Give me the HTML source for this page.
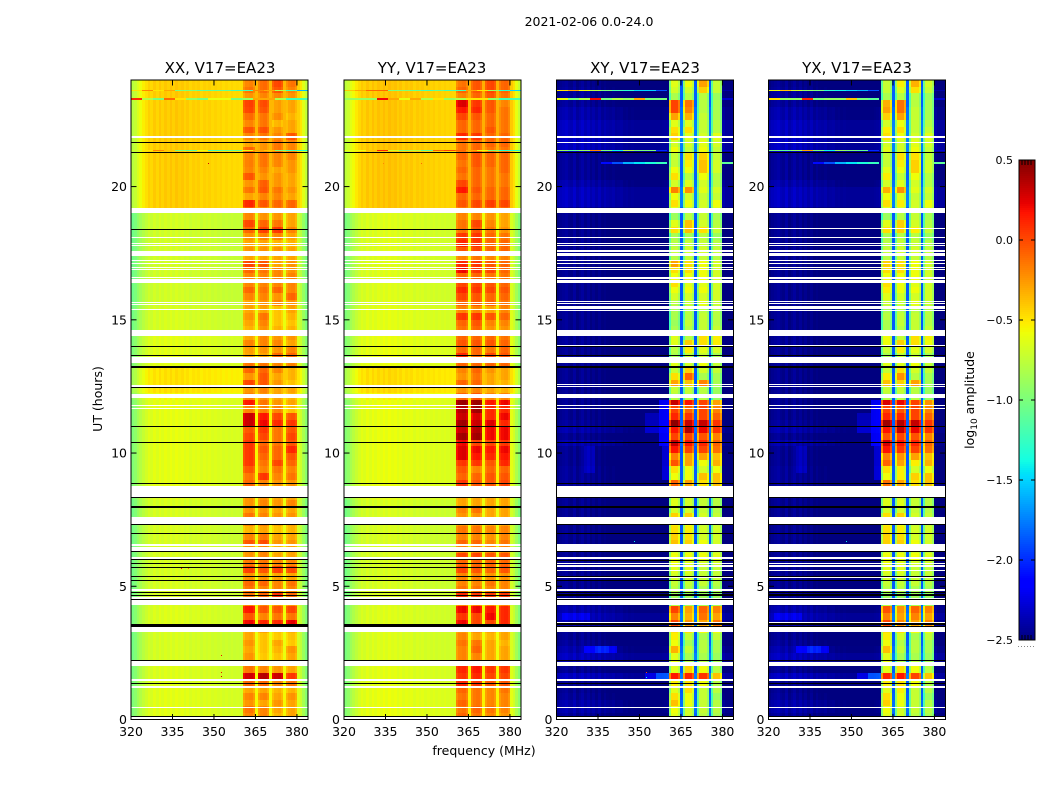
<!DOCTYPE html>
<html lang="en">
<head>
<meta charset="utf-8">
<title>2021-02-06 0.0-24.0 amplitude waterfall</title>
<style>
html,body{margin:0;padding:0;background:#fff;}
svg{display:block;font-family:"DejaVu Sans","Liberation Sans",sans-serif;fill:#000;}
.tick-label{font-size:12.5px;}
.title{font-size:15px;text-anchor:middle;}
</style>
</head>
<body>
<svg id="chart" width="1050" height="800" viewBox="0 0 1050 800" xmlns="http://www.w3.org/2000/svg">
  <rect x="0" y="0" width="1050" height="800" fill="#fff"/>
  <text x="589" y="26" font-size="12.5" text-anchor="middle">2021-02-06 0.0-24.0</text>
  <g id="panels"></g>
  <text class="title" x="220" y="73">XX, V17=EA23</text>
  <text class="title" x="432" y="73">YY, V17=EA23</text>
  <text class="title" x="645" y="73">XY, V17=EA23</text>
  <text class="title" x="857" y="73">YX, V17=EA23</text>
  <text font-size="12.5" text-anchor="middle" transform="translate(102 399) rotate(-90)">UT (hours)</text>
  <text x="484" y="755" font-size="12.5" text-anchor="middle">frequency (MHz)</text>
  <g id="colorbar"></g>
  <text font-size="12.5" text-anchor="middle" transform="translate(974 400) rotate(-90)">log<tspan font-size="9" dy="3">10</tspan><tspan dy="-3"> amplitude</tspan></text>
</svg>
<script>
// ---- axis tick data ----
const freqTicks = [320, 335, 350, 365, 380];
const hourTicks = [0, 5, 10, 15, 20];
const colorTicks = [-2.5, -2, -1.5, -1, -0.5, 0, 0.5];
const colorTickLabels = ["\u22122.5", "\u22122.0", "\u22121.5", "\u22121.0", "\u22120.5", "0.0", "0.5"];

// ---- channel layout (MHz) ----
const channelEdges = [320,321,322,323,324,325,326,327,328,329,330,331,332,333,334,335,336,337,338,339,340,341,342,343,344,345,346,347,348,349,350,351,352,353,354,355,356,357,358,359,360,360.6,361.4,362.7,364,364.8,365.9,366.6,367.9,369.1,369.8,370.9,371.6,373,374.3,375,375.9,376.6,377.9,379.2,379.9,381,382,383,384];
const bandStarts = [360.6, 365.9, 370.9, 375.9];
const bandEnds = [364.8, 369.8, 375, 379.9];

// ---- spectral shape per polarisation family (log10 offsets) ----
const parallelContinuumOffsets = [-.33,-.28,-.2,-.14,-.08,-.03,.02,-.01,.04,0,.05,.01,.05,.02,.06,.02,.06,.03,.05,.01,.04,0,.03,.01,.03,-.01,.02,0,.02,-.01,.01,-.01,.01,-.02,0,-.02,0,-.02,-.01,-.02,-.02];
const parallelBandShape = [-.07, 0, .02, -.05];
const parallelGapOffset = .1;
const parallelEdgeOffsets = [.02, -.05, -.18, -.3];
const crossContinuumOffsets = [-.08,-.04,-.02,0,-.04,-.06,0,-.08,-.04,0,-.06,-.02,-.08,-.04,-.09,-.04,-.1,-.06,-.09,-.1,-.08,-.12,-.11,-.1,-.13,-.12,-.14,-.13,-.14,-.14,-.14,-.14,-.14,-.14,-.14,-.14,-.14,-.14,-.13,-.12,-.1];
const crossBandShape = [-.25, .12, .12, -.05];
const crossGapOffset = .55;
const crossEdgeOffsets = [-.08, -.12, -.12, -.12];

// ---- time rows, top (24 h) to bottom (0 h): [continuum, band1, band2, band3, band4] ----
const rowHours = 0.25;
const xxRows = [
[-.45,-.2,-.12,0,-.15],[-.45,-.15,-.12,-.05,-.2],[-.45,-.25,-.2,-.2,-.25],[-.45,.02,-.02,-.28,-.3],[-.45,0,-.05,-.28,-.3],[-.45,-.12,-.15,-.22,-.35],
[-.45,-.2,-.15,-.35,-.3],[-.45,-.05,-.03,-.25,-.3],[-.45,-.2,-.15,-.2,-.05],[-.45,-.3,-.25,-.15,-.2],[-.45,-.1,-.25,-.15,-.2],[-.45,-.2,-.15,-.2,-.2],
[-.45,-.18,-.15,-.2,-.25],[-.45,-.2,-.2,-.3,-.25],[-.45,-.05,-.25,-.25,-.3],[-.45,-.25,-.08,-.25,-.3],[-.45,-.15,-.05,-.15,-.25],[-.45,-.3,-.2,-.2,-.3],
[-.45,.1,-.05,-.1,-.1],[-.45,-.05,-.2,-.15,-.1],[-.72,-.2,-.25,-.25,-.3],[-.72,0,-.1,-.15,-.3],[-.72,-.1,.02,.05,-.2],[-.72,-.25,-.2,-.2,-.3],
[-.72,-.3,-.3,-.35,-.35],[-.72,-.25,-.25,-.25,-.3],[-.72,-.3,-.3,-.3,-.3],[-.72,0,-.05,-.3,-.25],[-.72,-.1,-.15,-.2,-.25],[-.72,-.2,-.2,-.2,-.2],
[-.72,-.2,-.2,-.2,-.2],[-.72,-.1,-.15,-.1,-.2],[-.72,-.2,-.2,-.25,-.1],[-.72,-.3,-.25,-.2,-.25],[-.7,-.3,-.3,-.4,-.3],[-.7,-.25,-.15,-.4,-.35],
[-.7,-.3,-.2,-.4,-.4],[-.7,-.35,-.25,-.35,-.35],[-.66,-.3,-.2,-.25,-.25],[-.66,-.2,-.2,-.2,-.3],[-.66,-.28,-.25,-.25,-.2],[-.66,-.3,-.3,-.1,-.1],
[-.66,-.15,-.15,-.2,-.2],[-.52,-.1,-.1,-.2,-.35],[-.52,-.25,-.05,-.3,-.35],[-.52,0,-.05,-.25,-.4],[-.52,-.25,-.2,-.3,-.3],[-.6,-.2,-.25,-.3,-.35],
[-.65,.15,-.15,-.25,-.3],[-.65,-.2,-.2,-.2,-.4],[-.65,.3,.15,0,-.05],[-.65,.3,.2,.1,.05],[-.65,-.05,.05,-.15,-.05],[-.65,0,0,-.15,0],
[-.65,.05,-.1,-.15,-.05],[-.65,.05,-.05,-.1,.1],[-.65,.05,-.1,-.1,-.05],[-.65,.05,-.15,0,-.1],[-.65,-.05,-.2,-.15,-.2],[-.65,-.15,.05,-.2,-.15],
[-.65,-.1,-.2,-.25,-.25],[-.68,-.25,-.25,-.3,-.3],[-.68,-.25,-.25,-.3,-.3],[-.7,-.25,-.2,-.25,-.2],[-.7,-.25,-.25,-.3,-.3],[-.7,-.15,-.2,-.25,-.25],
[-.7,-.2,-.2,-.3,-.3],[-.7,-.35,-.3,-.4,-.35],[-.7,-.2,-.15,-.3,-.3],[-.7,-.05,-.02,-.25,-.25],[-.7,-.25,-.2,-.35,-.3],[-.7,-.25,-.2,-.3,-.3],
[-.7,-.15,-.15,-.2,-.2],[-.7,.02,-.05,.02,-.02],[-.7,-.25,-.25,-.3,-.3],[-.7,-.1,-.1,-.2,-.15],[-.7,-.15,-.2,-.2,-.2],[-.7,-.15,-.1,.08,-.1],
[-.7,-.2,-.2,-.25,-.25],[-.68,.15,-.05,-.05,0],[-.68,-.05,-.2,-.15,-.15],[-.68,.2,.1,.1,.22],[-.7,-.3,-.3,-.4,-.35],[-.7,-.3,-.4,-.42,-.4],
[-.7,-.25,-.4,-.3,-.42],[-.7,-.3,-.4,-.35,-.25],[-.7,-.25,-.42,-.4,-.3],[-.7,-.3,-.38,-.4,-.4],[-.68,-.15,-.2,-.25,-.3],[-.68,.28,.35,.3,.05],
[-.68,-.1,-.1,-.2,-.15],[-.66,-.3,-.3,-.35,-.35],[-.66,-.2,-.2,-.3,-.25],[-.66,-.25,-.3,-.25,-.3],[-.66,-.15,-.2,-.3,-.3],[-.66,-.2,-.2,-.35,-.3]
];
const yyRows = [
[-.43,-.15,-.05,0,-.1],[-.43,-.1,-.05,0,-.1],[-.43,-.2,-.1,-.05,-.15],[-.43,.25,.05,-.05,-.2],[-.43,.15,.1,-.05,-.15],[-.43,0,-.05,-.1,-.15],
[-.43,-.1,-.1,-.1,-.15],[-.43,-.1,-.1,-.05,-.15],[-.43,.1,.05,-.1,-.1],[-.43,-.15,-.1,-.1,-.1],[-.43,-.15,-.1,-.15,-.15],[-.43,-.1,-.05,-.1,-.1],
[-.43,-.15,-.05,-.1,-.1],[-.43,-.1,-.1,-.15,-.1],[-.43,-.15,-.1,-.15,-.15],[-.43,0,-.1,-.15,-.15],[-.43,.15,-.05,-.1,-.1],[-.43,-.1,-.1,-.1,-.1],
[-.43,-.05,0,.03,0],[-.43,-.15,-.05,-.05,-.1],[-.68,-.2,-.2,-.25,-.3],[-.68,-.15,0,-.2,-.3],[-.68,-.15,-.05,-.15,-.25],[-.68,.05,.05,-.1,-.15],
[-.68,.1,.05,-.1,-.1],[-.68,-.05,0,-.1,-.1],[-.68,-.2,-.15,-.2,-.2],[-.68,.1,.05,-.05,-.1],[-.68,.2,.05,0,-.1],[-.68,-.1,-.1,-.15,-.15],
[-.68,0,0,-.05,-.1],[-.68,.1,.05,0,-.05],[-.68,0,-.05,-.1,-.1],[-.68,-.1,-.05,-.1,-.15],[-.66,-.2,-.2,-.3,-.2],[-.66,.05,.05,-.05,-.1],
[-.66,-.1,-.05,-.2,-.2],[-.66,-.15,-.1,-.25,-.25],[-.64,-.1,-.1,-.1,-.15],[-.64,-.05,-.05,-.05,-.1],[-.64,-.1,-.1,-.15,-.1],[-.64,.1,-.1,0,-.05],
[-.64,-.1,-.1,-.1,-.1],[-.5,-.2,-.1,-.25,-.3],[-.5,-.25,-.15,-.3,-.3],[-.5,-.1,-.1,-.3,-.35],[-.5,-.25,-.2,-.3,-.35],[-.58,-.1,-.05,-.2,-.2],
[-.64,.42,.42,.15,.2],[-.64,.35,.4,.1,.1],[-.64,.3,.25,.1,.2],[-.64,.4,.3,.25,.1],[-.64,.3,.35,.2,.2],[-.64,.4,.4,.2,.2],
[-.64,.2,0,0,.05],[-.64,.25,.2,.15,.2],[-.64,.25,.15,.1,.15],[-.64,.05,.05,-.05,.1],[-.64,-.05,-.2,-.1,-.1],[-.64,-.1,-.1,-.05,-.05],
[-.64,.05,-.05,-.05,0],[-.66,-.3,-.3,-.3,-.3],[-.66,-.3,-.3,-.3,-.3],[-.7,-.3,-.3,-.3,-.3],[-.7,-.2,-.15,-.3,-.3],[-.7,-.25,-.25,-.3,-.3],
[-.7,-.25,-.25,-.3,-.3],[-.7,-.15,-.15,-.2,-.2],[-.7,-.2,-.2,-.25,-.2],[-.7,-.1,-.1,-.2,-.15],[-.7,-.2,-.2,-.2,-.2],[-.7,0,0,-.05,-.05],
[-.7,-.1,-.1,-.1,-.1],[-.7,0,-.05,-.1,-.05],[-.7,-.2,-.2,-.25,-.25],[-.7,-.2,-.2,-.15,-.2],[-.7,-.15,-.15,-.2,-.2],[-.7,.1,.05,.05,.05],
[-.7,-.2,-.2,-.2,-.2],[-.68,.2,.2,.15,.1],[-.68,.05,0,.2,.1],[-.68,.2,0,0,.1],[-.68,-.25,-.25,-.3,-.3],[-.68,-.2,-.3,-.35,-.3],
[-.68,-.15,-.15,-.3,-.35],[-.68,-.2,-.1,-.3,-.3],[-.68,-.2,-.2,-.3,-.3],[-.68,-.2,-.2,-.3,-.3],[-.66,.1,.15,.05,.05],[-.66,.05,.1,0,0],
[-.66,.1,.05,-.05,-.05],[-.64,-.1,-.15,-.2,-.15],[-.64,-.15,-.15,-.2,-.2],[-.64,-.1,-.15,-.2,-.2],[-.64,-.15,-.1,-.15,-.2],[-.64,-.1,-.15,-.2,-.25]
];
const xyRows = [
[-2.42,-.75,-.7,-.4,-.85],[-2.4,-.8,-.8,-.55,-.85],[-2.4,-.95,-.9,-.9,-1],[-2.4,-.1,-.25,-.9,-.95],[-2.35,-.1,-.3,-.9,-.95],[-2.35,-.4,-.45,-.85,-.95],
[-2.3,-.75,-.75,-.85,-.9],[-2.3,-.6,-.6,-.85,-.9],[-2.3,-.55,-.75,-.8,-.75],[-2.3,-.8,-.8,-.75,-.8],[-2.3,-.7,-.85,-.7,-.85],[-2.4,-.85,-.6,-.55,-.85],
[-2.4,-.85,-.65,-.5,-.8],[-2.4,-.7,-.7,-.5,-.8],[-2.4,-.6,-.9,-.7,-.9],[-2.35,-.8,-.75,-.8,-.9],[-2.3,-.3,-.35,-.75,-.8],[-2.3,-.7,-.8,-.85,-.85],
[-2.3,-.6,-.7,-.8,-.7],[-2.4,-.75,-.85,-.8,-.75],[-2.42,-1,-.9,-.85,-.95],[-2.42,-.75,-.5,-.8,-.9],[-2.42,-.6,-.5,-.6,-.85],[-2.42,-.95,-.95,-.9,-1],
[-2.42,-.9,-.85,-.85,-.9],[-2.42,-.85,-.8,-.8,-.85],[-2.42,-.9,-.85,-.85,-.9],[-2.42,-.4,-.6,-.7,-.8],[-2.42,-.6,-.6,-.7,-.8],[-2.42,-.7,-.7,-.7,-.8],
[-2.42,-.6,-.75,-.75,-.8],[-2.42,-.7,-.7,-.7,-.8],[-2.42,-.8,-.8,-.8,-.8],[-2.42,-.9,-.85,-.75,-.85],[-2.42,-.95,-.9,-.9,-.9],[-2.42,-.95,-.9,-.85,-.9],
[-2.42,-1,-.85,-.85,-.9],[-2.42,-.95,-.9,-.85,-.85],[-2.42,-.75,-.9,-.6,-.65],[-2.4,-.75,-.55,-.6,-.65],[-2.42,-.9,-.65,-.75,-.8],[-2.42,-.95,-.85,-.85,-.95],
[-2.42,-.75,-.8,-.7,-.85],[-2.42,-.85,-.55,-.8,-.85],[-2.42,-.6,-.2,-.95,-.95],[-2.42,-.4,-.5,-.3,-.95],[-2.42,-.85,-.85,-.9,-1],[-2.42,-.9,-.9,-.9,-1],
[-2.42,.2,.05,-.1,-.4],[-2.42,-.1,-.2,-.1,-.3],[-2.42,0,-.05,-.1,-.2],[-2.4,.35,.2,.2,-.05],[-2.35,.05,.25,.1,-.05],[-2.42,-.1,-.1,-.15,-.3],
[-2.35,.2,.05,0,-.2],[-2.42,.05,-.1,-.1,-.25],[-2.42,-.3,-.4,-.4,-.5],[-2.42,-.15,-.4,-.7,-.45],[-2.4,-.6,-.7,-.8,-.7],[-2.4,-.7,-.7,-.5,-.5],
[-2.4,-.2,-.4,-.6,-.5],[-2.42,-.8,-.8,-.85,-.9],[-2.42,-.8,-.8,-.85,-.9],[-2.42,-.75,-.8,-.85,-.9],[-2.42,-.8,-.8,-.85,-.9],[-2.42,-.55,-.55,-.8,-.85],
[-2.42,-.65,-.7,-.85,-.85],[-2.42,-.6,-.65,-.8,-.8],[-2.42,-.55,-.6,-.8,-.8],[-2.42,-.5,-.55,-.7,-.8],[-2.42,-.8,-.8,-.8,-.85],[-2.42,-.7,-.7,-.7,-.75],
[-2.42,-.7,-.75,-.8,-.8],[-2.42,-.75,-.75,-.85,-.85],[-2.42,-.8,-.8,-.85,-.85],[-2.42,-.85,-.85,-.85,-.9],[-2.42,-.9,-.9,-.95,-.95],[-2.42,-1,-1,-1,-1],
[-2.42,-.9,-.95,-.95,-.95],[-2.35,-.1,-.4,-.2,-.3],[-2.3,-.3,-.45,-.25,-.4],[-2.35,-.1,-.35,-.4,-.25],[-2.42,-.6,-.6,-.7,-.7],[-2.42,-.65,-.85,-.95,-.85],
[-2.4,-.7,-.95,-.9,-.95],[-2.35,-.45,-.85,-.9,-.95],[-2.3,-.75,-.95,-.95,-1],[-2.35,-.7,-.9,-.9,-.95],[-2.42,-.75,-.55,-.7,-.9],[-2.3,.05,0,-.05,-.5],
[-2.42,-.65,-.6,-.7,-.9],[-2.42,-.75,-.6,-.85,-.9],[-2.4,-.6,-.7,-.85,-1],[-2.35,-.5,-.7,-.85,-.9],[-2.35,-.7,-.8,-.85,-.9],[-2.4,-.75,-.8,-.9,-.95]
];
const yxRows = [
[-2.42,-.85,-.65,-.45,-.8],[-2.4,-.85,-.75,-.6,-.85],[-2.4,-.95,-.9,-.9,-1],[-2.4,-.45,-.25,-.9,-.95],[-2.35,-.4,-.25,-.85,-.95],[-2.35,-.55,-.4,-.85,-.95],
[-2.3,-.8,-.7,-.85,-.9],[-2.3,-.65,-.6,-.85,-.85],[-2.3,-.6,-.7,-.8,-.75],[-2.3,-.8,-.8,-.75,-.8],[-2.3,-.75,-.8,-.7,-.85],[-2.4,-.85,-.6,-.6,-.85],
[-2.4,-.85,-.65,-.55,-.8],[-2.4,-.75,-.7,-.55,-.8],[-2.4,-.65,-.85,-.7,-.9],[-2.35,-.8,-.75,-.8,-.9],[-2.3,-.45,-.35,-.75,-.8],[-2.3,-.7,-.75,-.85,-.85],
[-2.3,-.6,-.65,-.8,-.7],[-2.4,-.75,-.8,-.8,-.75],[-2.42,-1,-.9,-.85,-.95],[-2.42,-.75,-.55,-.8,-.9],[-2.42,-.6,-.55,-.65,-.85],[-2.42,-.95,-.9,-.9,-1],
[-2.42,-.9,-.85,-.85,-.9],[-2.42,-.85,-.8,-.8,-.85],[-2.42,-.9,-.85,-.85,-.9],[-2.42,-.55,-.6,-.7,-.8],[-2.42,-.6,-.6,-.7,-.8],[-2.42,-.7,-.7,-.7,-.8],
[-2.42,-.6,-.7,-.75,-.8],[-2.42,-.65,-.7,-.7,-.8],[-2.42,-.75,-.8,-.8,-.8],[-2.42,-.85,-.85,-.75,-.85],[-2.42,-.95,-.9,-.9,-.9],[-2.42,-.9,-.85,-.85,-.9],
[-2.42,-.95,-.85,-.85,-.9],[-2.42,-.95,-.9,-.85,-.85],[-2.42,-.7,-.85,-.6,-.65],[-2.4,-.7,-.55,-.6,-.7],[-2.42,-.85,-.65,-.75,-.8],[-2.42,-.95,-.85,-.85,-.95],
[-2.42,-.75,-.75,-.7,-.85],[-2.42,-.85,-.6,-.8,-.85],[-2.42,-.65,-.35,-.9,-.95],[-2.42,-.5,-.55,-.4,-.95],[-2.42,-.85,-.85,-.9,-1],[-2.42,-.9,-.9,-.9,-1],
[-2.42,.15,.1,-.1,-.35],[-2.42,-.1,-.15,-.1,-.3],[-2.42,0,0,-.1,-.2],[-2.4,.3,.25,.2,-.05],[-2.35,.05,.2,.1,-.05],[-2.42,-.15,-.1,-.15,-.3],
[-2.35,.15,.05,0,-.2],[-2.42,.05,-.05,-.1,-.25],[-2.42,-.3,-.35,-.4,-.5],[-2.42,-.2,-.4,-.65,-.45],[-2.4,-.6,-.65,-.8,-.7],[-2.4,-.7,-.65,-.55,-.5],
[-2.4,-.25,-.4,-.6,-.5],[-2.42,-.8,-.8,-.85,-.9],[-2.42,-.8,-.8,-.85,-.9],[-2.42,-.75,-.75,-.85,-.9],[-2.42,-.8,-.8,-.85,-.9],[-2.42,-.6,-.55,-.8,-.85],
[-2.42,-.65,-.7,-.85,-.85],[-2.42,-.6,-.65,-.8,-.8],[-2.42,-.55,-.6,-.8,-.8],[-2.42,-.55,-.55,-.7,-.8],[-2.42,-.8,-.8,-.8,-.85],[-2.42,-.7,-.7,-.7,-.75],
[-2.42,-.7,-.75,-.8,-.8],[-2.42,-.75,-.75,-.85,-.85],[-2.42,-.8,-.8,-.85,-.85],[-2.42,-.85,-.85,-.85,-.9],[-2.42,-.9,-.9,-.95,-.95],[-2.42,-1,-1,-1,-1],
[-2.42,-.9,-.95,-.95,-.95],[-2.35,-.15,-.35,-.2,-.3],[-2.3,-.3,-.4,-.3,-.4],[-2.35,-.1,-.3,-.4,-.3],[-2.42,-.6,-.6,-.7,-.7],[-2.42,-.65,-.8,-.95,-.85],
[-2.4,-.7,-.9,-.9,-.95],[-2.35,-.5,-.85,-.9,-.95],[-2.3,-.75,-.95,-.95,-1],[-2.35,-.7,-.9,-.9,-.95],[-2.42,-.75,-.6,-.7,-.9],[-2.3,0,.05,-.1,-.5],
[-2.42,-.65,-.6,-.7,-.9],[-2.42,-.75,-.65,-.85,-.9],[-2.4,-.6,-.7,-.85,-1],[-2.35,-.55,-.7,-.85,-.9],[-2.35,-.7,-.8,-.85,-.9],[-2.4,-.75,-.8,-.9,-.95]
];

// ---- cross-hand diffuse patches: [hourStart, hourEnd, freqStart, freqEnd, added] ----
const crossPatches = [
[2.5,2.75,330,342,.25],[2.5,2.75,334,339,.15],[3.75,4,322,332,.12],
[1.5,1.75,356,361,.55],[1.5,1.75,352,356,.2],
[10.25,12,357,361,.35],[8.9,10.25,358,361,.25],[10.75,11.5,352,357,.2],[9.25,10.25,330,334,.12]
];

// ---- narrow RFI rows: hour, thickness (h), then values in 4 MHz bins from 320 MHz (null = no RFI) ----
const xxStreakHours = [23.6, 23.3, 21.36];
const xxStreakHeights = [.04, .08, .04];
const xxStreakValues = [
[-.5,-.2,-.5,-.3,-1,-1,-1.1,-1.1,-1.1,-1.2,-1.2,-.2,-.3,-.8,-1.2,-1.6],
[.1,-.8,-1,-.1,-.5,-.9,-1,-.6,-.6,-1,-.9,-.3,-.3,-.8,-1.2,-1.2],
[-.7,-.5,-.2,-.4,-1,-1.1,-.6,-1.2,-1.1,-1.1,-.6,-.3,-.4,-1,-1.2,-1.3]
];
const yyStreakValues = [
[-.4,-.3,-.1,-.1,-1,-1,-1.1,-1.2,-1.1,-1.2,-1.2,-.3,-.5,-.9,-1.3,-1.5],
[-.9,-.9,-.9,.2,-.3,-.6,-.3,-.8,-.5,-.9,-.8,-.5,-.5,-.9,-1.2,-1.2],
[-.6,-.6,-.4,.1,-.7,-1,-.8,-1.1,-.1,0,-.1,-.3,-.6,-1,-1.3,-1.3]
];
const xyStreakHours = [23.6, 23.3, 21.36, 20.88];
const xyStreakHeights = [.04, .08, .04, .05];
const xyStreakValues = [
[-.5,-.3,-.6,-.8,-1,-1.2,-1.3,-1.5,-1.5,-1.9,null,null,null,null,null,-2.4],
[-.6,-1,-.8,.2,-1,-.8,-.9,-.3,-1,-1,null,null,null,null,null,-2.3],
[-.9,-1.1,-.9,-.2,-1,-1.4,-.8,-1,-1,-2,null,null,null,null,null,-2.3],
[null,null,null,null,-2.1,-1.9,-1.6,-1.45,-1.35,-1.25,null,null,null,null,null,-1.1]
];
const yxStreakValues = [
[-.6,-.4,-.7,-.9,-1,-1.3,-1.4,-1.5,-1.6,-1.9,null,null,null,null,null,-2.4],
[-.5,-.9,-.9,.1,-1,-.9,-.9,-.4,-1,-1.1,null,null,null,null,null,-2.3],
[-1,-1.1,-.9,-.3,-1,-1.4,-.9,-1,-1.1,-2,null,null,null,null,null,-2.3],
[null,null,null,null,-2.1,-1.9,-1.6,-1.45,-1.35,-1.25,null,null,null,null,null,-1.1]
];

// ---- single-pixel spikes: [hour, MHz, value] ----
const xxSpecks = [[5.69,338,.2],[5.69,340.5,-.1],[2.42,352.4,.2],[1.78,352.4,.2],[1.63,352.4,.3],[20.87,348,.3]];
const yySpecks = [[20.87,334,-.2],[20.87,348,-.1]];
const xySpecks = [[6.7,348,-1.4],[1.78,352.4,0],[1.6,352.4,-1.4]];
const yxSpecks = [[6.7,348,-1.4]];

// ---- flagged time ranges: [hourEnd, hourStart] ----
const parallelWhite = [[21.88,21.83],[19.18,18.99],[18.09,18.06],[17.87,17.83],[17.79,17.76],[17.6,17.57],[17.53,17.4],[17.23,17.19],[17.12,17.08],[16.99,16.97],[16.89,16.86],[16.59,16.56],[16.52,16.37],[15.66,15.62],[15.58,15.54],[15.39,15.36],[14.61,14.38],[13.59,13.37],[12.56,12.53],[12.51,12.47],[12.21,12.06],[11.79,11.76],[11.68,11.64],[8.76,8.34],[7.59,7.5],[7.48,7.33],[6.58,6.51],[6.47,6.32],[6.09,6.02],[4.89,4.82],[4.61,4.52],[4.48,4.29],[3.47,3.28],[2.19,2.01],[1.52,1.44],[1.26,1.18],[.47,.43],[.09,.02]];
const crossWhite = [[21.88,21.83],[21.66,21.62],[19.18,18.99],[18.43,18.39],[18.09,18.06],[17.87,17.83],[17.79,17.76],[17.63,17.55],[17.52,17.39],[17.23,17.19],[17.12,17.08],[16.99,16.97],[16.89,16.86],[16.61,16.53],[16.51,16.38],[15.69,15.66],[15.62,15.58],[15.51,15.39],[15.36,15.32],[14.61,14.38],[14.04,14.01],[13.59,13.37],[12.58,12.54],[12.51,12.47],[12.21,12.06],[11.79,11.76],[11.68,11.64],[8.76,8.34],[7.59,7.5],[7.48,7.33],[6.58,6.49],[6.46,6.32],[6.09,6.02],[5.87,5.83],[5.78,5.74],[5.61,5.57],[5.34,5.31],[4.89,4.82],[4.56,4.52],[4.49,4.31],[3.66,3.61],[3.48,3.28],[2.17,2.01],[1.52,1.44],[1.27,1.19],[.47,.43],[.08,.02]];
const parallelBlack = [[21.69,21.65],[21.29,21.25],[18.41,18.37],[14.01,13.97],[13.68,13.64],[13.27,13.2],[12.48,12.44],[11.01,10.97],[10.41,10.37],[8.88,8.84],[8.35,8.31],[8.02,7.94],[7.34,7.3],[7,6.96],[6.33,6.29],[6.01,5.97],[5.88,5.84],[5.73,5.69],[5.4,5.36],[5.24,5.2],[4.78,4.74],[4.69,4.65],[4.51,4.47],[3.6,3.52],[3.51,3.47],[2.22,2.18],[1.38,1.34],[.13,.09]];
const crossBlack = [[21.29,21.25],[14.01,13.97],[13.68,13.64],[13.27,13.2],[11.01,10.97],[10.41,10.37],[8.87,8.83],[8.35,8.31],[8.02,7.94],[7.34,7.3],[7,6.96],[6.33,6.29],[6,5.96],[5.4,5.36],[5.24,5.2],[4.8,4.76],[4.72,4.68],[4.67,4.63],[4.53,4.49],[3.63,3.55],[3.52,3.48],[2.23,2.19],[1.38,1.34],[.12,.08]];

// ---- scales ----
const panelLefts = [131, 344, 556.5, 768.5];
const plotWidth = 177, plotTop = 80, plotBottom = 719.5;
const freqMin = 320, freqMax = 384, hourMax = 24, colorMin = -2.5, colorMax = 0.5;
const SVGNS = "http://www.w3.org/2000/svg";

function xScale(left, f) { return left + (f - freqMin) / (freqMax - freqMin) * plotWidth; }
function yScale(h) { return plotBottom - h / hourMax * (plotBottom - plotTop); }

function lerpStops(stops, t) {
  for (let i = 1; i < stops.length; i++) {
    if (t <= stops[i][0]) {
      const a = stops[i - 1], b = stops[i];
      return a[1] + (b[1] - a[1]) * (t - a[0]) / (b[0] - a[0]);
    }
  }
  return stops[stops.length - 1][1];
}
const jetR = [[0,0],[.35,0],[.66,1],[.89,1],[1,.5]];
const jetG = [[0,0],[.125,0],[.375,1],[.64,1],[.91,0],[1,0]];
const jetB = [[0,.5],[.11,1],[.34,1],[.65,0],[1,0]];
function colorOf(v) {
  const t = Math.max(0, Math.min(1, (v - colorMin) / (colorMax - colorMin)));
  const c = [jetR, jetG, jetB].map(s => Math.round(lerpStops(s, t) * 255));
  return "rgb(" + c[0] + "," + c[1] + "," + c[2] + ")";
}
function makeRect(x0, y0, x1, y1, fill) {
  const r = document.createElementNS(SVGNS, "rect");
  r.setAttribute("x", x0);
  r.setAttribute("y", y0);
  r.setAttribute("width", x1 - x0);
  r.setAttribute("height", y1 - y0);
  r.setAttribute("fill", fill);
  return r;
}
function makeLine(x1, y1, x2, y2) {
  const l = document.createElementNS(SVGNS, "line");
  l.setAttribute("x1", x1);
  l.setAttribute("y1", y1);
  l.setAttribute("x2", x2);
  l.setAttribute("y2", y2);
  l.setAttribute("stroke", "#000");
  l.setAttribute("stroke-width", "1");
  return l;
}
function makeText(x, y, anchor, str) {
  const t = document.createElementNS(SVGNS, "text");
  t.setAttribute("x", x);
  t.setAttribute("y", y);
  t.setAttribute("text-anchor", anchor);
  t.setAttribute("class", "tick-label");
  t.textContent = str;
  return t;
}

function cellValue(rowVals, colIdx, freqLo, freqHi, isCross, hourMid) {
  const mid = (freqLo + freqHi) / 2;
  const c = rowVals[0];
  const contOff = isCross ? crossContinuumOffsets : parallelContinuumOffsets;
  const shape = isCross ? crossBandShape : parallelBandShape;
  const gapOff = isCross ? crossGapOffset : parallelGapOffset;
  const edgeOff = isCross ? crossEdgeOffsets : parallelEdgeOffsets;
  let v;
  if (mid < bandStarts[0]) {
    v = c + contOff[colIdx];
  } else if (mid > bandEnds[3]) {
    v = c + edgeOff[colIdx - (channelEdges.length - 1 - edgeOff.length)];
  } else {
    v = c + gapOff;
    for (let b = 0; b < 4; b++) {
      if (mid > bandStarts[b] && mid < bandEnds[b]) {
        const sub = channelEdges.indexOf(bandStarts[b]);
        v = rowVals[b + 1] + shape[colIdx - sub];
      }
    }
  }
  if (isCross && mid < bandStarts[0]) {
    crossPatches.forEach(p => {
      if (hourMid >= p[0] && hourMid <= p[1] && mid >= p[2] && mid <= p[3]) v += p[4];
    });
  }
  return v;
}

function drawPanel(root, key, left, rows, isCross, streakHours, streakHeights, streakValues, specks, whites, blacks) {
  const g = document.createElementNS(SVGNS, "g");
  
  
  root.appendChild(g);

  const heat = document.createElementNS(SVGNS, "g");
  
  
  heat.setAttribute("shape-rendering", "crispEdges");
  g.appendChild(heat);

  rows.forEach((rowVals, i) => {
    const hourHi = hourMax - i * rowHours;
    const hourLo = hourHi - rowHours;
    for (let j = 0; j < channelEdges.length - 1; j++) {
      const f0 = channelEdges[j], f1 = channelEdges[j + 1];
      const v = cellValue(rowVals, j, f0, f1, isCross, (hourHi + hourLo) / 2);
      const cell = makeRect(Math.round(xScale(left, f0)), Math.round(yScale(hourHi)), Math.round(xScale(left, f1)), Math.round(yScale(hourLo)), colorOf(v));
      
      
      heat.appendChild(cell);
    }
  });

  streakValues.forEach((vals, s) => {
    const h = streakHours[s], dh = streakHeights[s];
    vals.forEach((v, b) => {
      if (v === null) return;
      const f0 = freqMin + b * 4, f1 = f0 + 4;
      const y0 = Math.round(yScale(h + dh / 2));
      const r = makeRect(Math.round(xScale(left, f0)), y0, Math.round(xScale(left, f1)), Math.max(y0 + 1, Math.round(yScale(h - dh / 2))), colorOf(v));
      
      
      heat.appendChild(r);
    });
  });

  specks.forEach(s => {
    const y0 = Math.round(yScale(s[0]));
    const x0 = Math.round(xScale(left, s[1]));
    const r = makeRect(x0, y0, x0 + 1, y0 + 1, colorOf(s[2]));
    
    
    heat.appendChild(r);
  });

  whites.forEach(f => {
    const y0 = Math.round(yScale(f[0]));
    const r = makeRect(left, y0, left + plotWidth, Math.max(y0 + 1, Math.round(yScale(f[1]))), "#fff");
    
    
    heat.appendChild(r);
  });
  blacks.forEach(f => {
    const y0 = Math.round(yScale(f[0]));
    const r = makeRect(left, y0, left + plotWidth, Math.max(y0 + 1, Math.round(yScale(f[1]))), "#000");
    
    
    heat.appendChild(r);
  });

  const frame = makeRect(left, plotTop, left + plotWidth, plotBottom, "none");
  frame.setAttribute("stroke", "#000");
  frame.setAttribute("stroke-width", "1");
  
  
  g.appendChild(frame);

  freqTicks.forEach(f => {
    const x = xScale(left, f);
    const lo = makeLine(x, plotBottom, x, plotBottom - 5.5);
    
    
    g.appendChild(lo);
    const hi = makeLine(x, plotTop, x, plotTop + 5.5);
    
    
    g.appendChild(hi);
    const lab = makeText(x, 736, "middle", String(f));
    
    
    g.appendChild(lab);
  });
  hourTicks.forEach(h => {
    const y = yScale(h);
    const lo = makeLine(left, y, left + 5.5, y);
    
    
    g.appendChild(lo);
    const hi = makeLine(left + plotWidth, y, left + plotWidth - 5.5, y);
    
    
    g.appendChild(hi);
    const lab = makeText(left - 4, y + 4.5, "end", String(h));
    
    
    g.appendChild(lab);
  });
}

const panelRoot = document.getElementById("panels");
drawPanel(panelRoot, "xx", panelLefts[0], xxRows, false, xxStreakHours, xxStreakHeights, xxStreakValues, xxSpecks, parallelWhite, parallelBlack);
drawPanel(panelRoot, "yy", panelLefts[1], yyRows, false, xxStreakHours, xxStreakHeights, yyStreakValues, yySpecks, parallelWhite, parallelBlack);
drawPanel(panelRoot, "xy", panelLefts[2], xyRows, true, xyStreakHours, xyStreakHeights, xyStreakValues, xySpecks, crossWhite, crossBlack);
drawPanel(panelRoot, "yx", panelLefts[3], yxRows, true, xyStreakHours, xyStreakHeights, yxStreakValues, yxSpecks, crossWhite, crossBlack);

// ---- colorbar ----
const cbLeft = 1019, cbRight = 1035, cbTop = 160, cbBottom = 640;
function cbY(v) { return cbBottom - (v - colorMin) / (colorMax - colorMin) * (cbBottom - cbTop); }
const cbRoot = document.getElementById("colorbar");
const cbRamp = document.createElementNS(SVGNS, "g");
cbRamp.setAttribute("shape-rendering", "crispEdges");


cbRoot.appendChild(cbRamp);
for (let py = cbTop; py < cbBottom; py += 2) {
  const value = colorMax - (py + 1 - cbTop) / (cbBottom - cbTop) * (colorMax - colorMin);
  const s = makeRect(cbLeft, py, cbRight, py + 2, colorOf(value));
  
  
  cbRamp.appendChild(s);
}
const cbFrame = makeRect(cbLeft, cbTop, cbRight, cbBottom, "none");
cbFrame.setAttribute("stroke", "#000");
cbFrame.setAttribute("stroke-width", "1");


cbRoot.appendChild(cbFrame);
colorTicks.forEach((v, i) => {
  const y = cbY(v);
  const a = makeLine(cbLeft, y, cbLeft + 4, y);
  
  
  cbRoot.appendChild(a);
  const b = makeLine(cbRight, y, cbRight - 4, y);
  
  
  cbRoot.appendChild(b);
  const lab = makeText(1013, y + 4, "end", colorTickLabels[i]);
  lab.setAttribute("style", "font-size:11px");
  
  
  cbRoot.appendChild(lab);
});
[1022, 1025, 1028, 1031].forEach(x => {
  const top = makeLine(x, cbTop, x, cbTop + 5);
  
  
  cbRoot.appendChild(top);
  const bot = makeLine(x, cbBottom, x, cbBottom - 5);
  
  
  cbRoot.appendChild(bot);
});
[1018, 1021, 1024, 1027, 1030, 1033].forEach(x => {
  const dot = makeRect(x, 646, x + 1, 647, "#888");
  
  
  cbRoot.appendChild(dot);
});
</script>
</body>
</html>
